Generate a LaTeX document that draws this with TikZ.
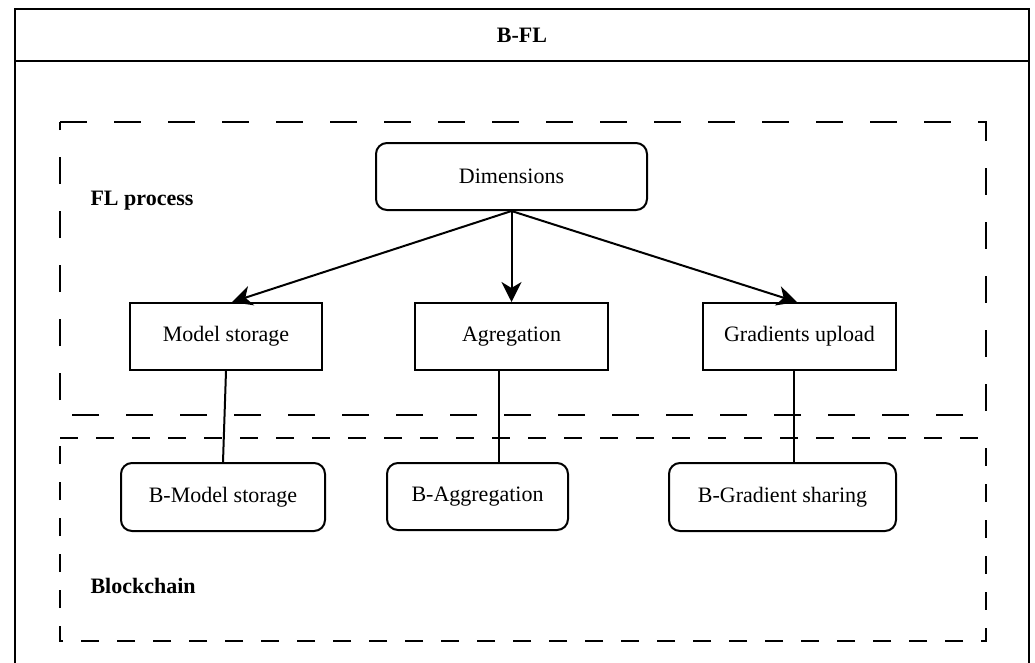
\documentclass[tikz,border=0pt]{standalone}
\usepackage{fontspec}
\setmainfont{Liberation Serif}
\usetikzlibrary{arrows.meta}
\begin{document}
\begin{tikzpicture}[x=1pt,y=-1pt,
  every node/.style={font=\fontsize{22}{26}\selectfont},
  box/.style={draw,line width=2pt,inner sep=0pt,minimum height=67pt,align=center},
  rbox/.style={box,rounded corners=11pt},
  grp/.style={line width=2pt},
  conn/.style={line width=2pt},
  arr/.style={conn,-{Stealth[length=20pt,width=20pt,inset=6pt]}},
  lbl/.style={font=\fontsize{22}{26}\selectfont\bfseries}
]
\useasboundingbox (0,0) rectangle (1035,662);

% outer frame with title bar
\draw[line width=2.6pt] (15,663) -- (15,9) -- (1029,9) -- (1029,663);
\draw[line width=2.6pt] (15,61) -- (1029,61);
\node[lbl] (title) at (522,35) {B-FL};

% FL process group
\draw[grp,dash pattern=on 27pt off 27pt] (60,122) -- (986,122) -- (986,415) -- (60,415) -- cycle;
\node[lbl,anchor=west] (flp) at (87,201) {FL process};

% Blockchain group
\draw[grp,dash pattern=on 18pt off 18pt] (60,438) -- (986,438) -- (986,641) -- (60,641) -- cycle;
\node[lbl,anchor=west] (bcl) at (87,586) {Blockchain};

% FL process nodes
\node[rbox,minimum width=271pt] (dim) at (511.5,176.5) {Dimensions};
\node[box,minimum width=192pt] (ms) at (226,336.5) {Model storage};
\node[box,minimum width=193pt] (ag) at (511.5,336.5) {Agregation};
\node[box,minimum width=193pt] (gu) at (799.5,336.5) {Gradients upload};

% blockchain nodes
\node[rbox,minimum width=204pt,minimum height=68pt] (bms) at (223,497) {B-Model storage};
\node[rbox,minimum width=181pt] (bag) at (477.5,496.5) {B-Aggregation};
\node[rbox,minimum width=227pt,minimum height=68pt] (bgs) at (782.5,497) {B-Gradient sharing};

% arrows from Dimensions
\draw[arr] (dim.south) -- ([xshift=6pt]ms.north);
\draw[arr] (dim.south) -- (ag.north);
\draw[arr] (dim.south) -- ([xshift=-2.5pt]gu.north);

% links to blockchain
\draw[conn] (ms.south) -- (bms.north);
\draw[conn] ([xshift=-12.5pt]ag.south) -- ([xshift=21.5pt]bag.north);
\draw[conn] ([xshift=-5.5pt]gu.south) -- ([xshift=11.5pt]bgs.north);
\end{tikzpicture}
\end{document}
